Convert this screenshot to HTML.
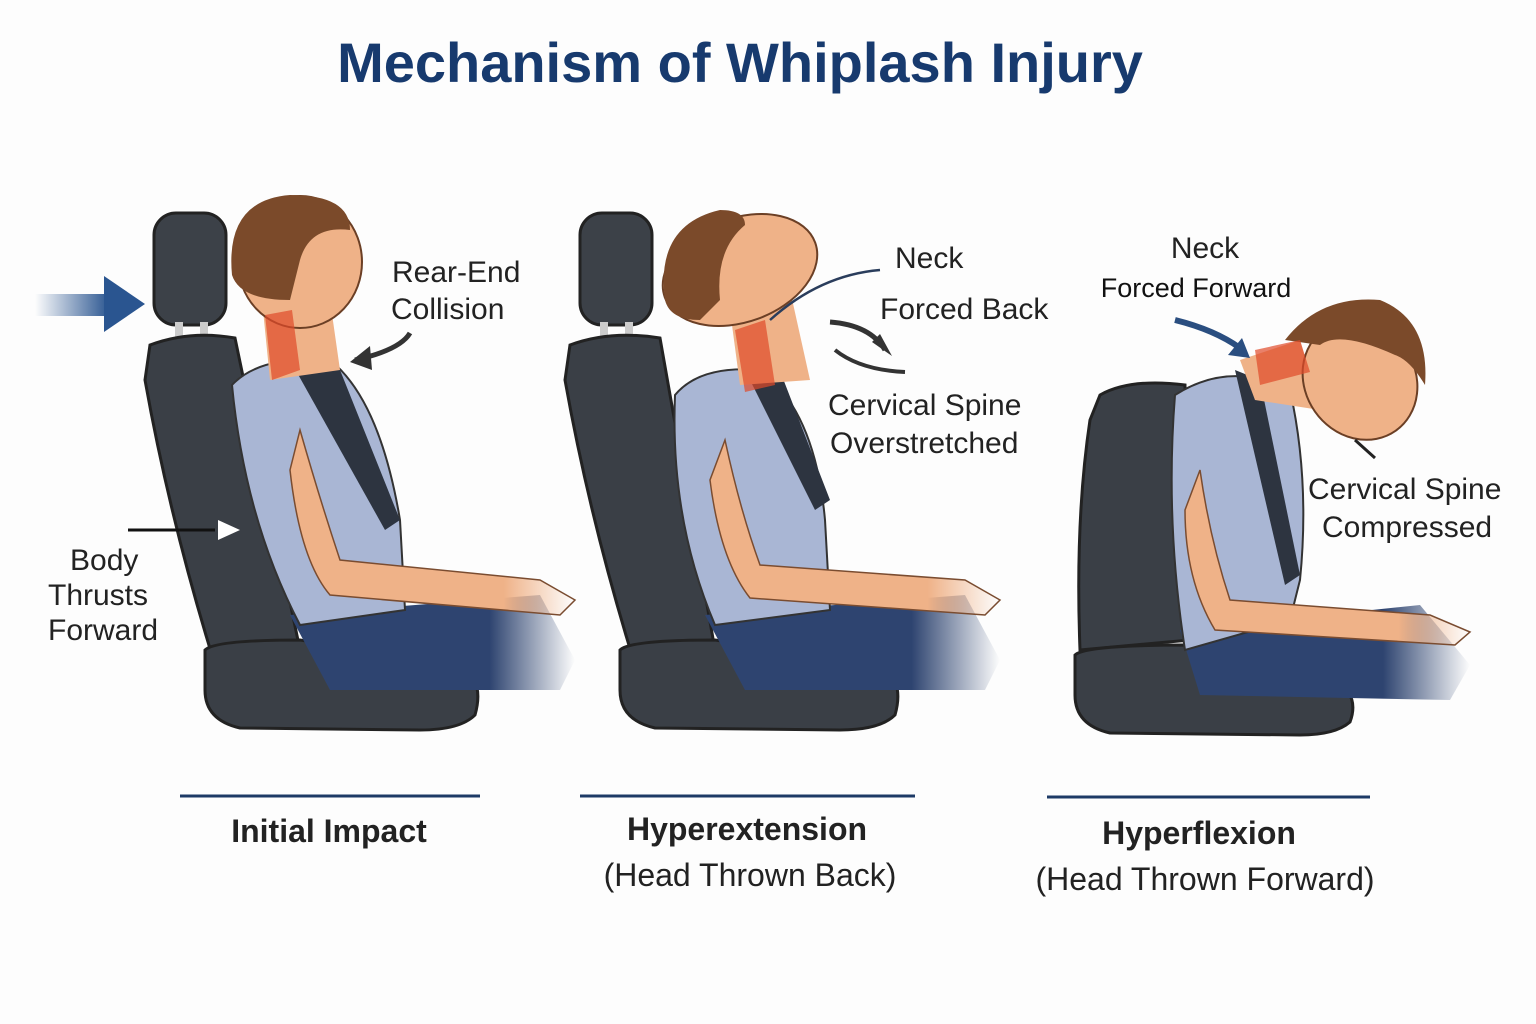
<!DOCTYPE html>
<html><head><meta charset="utf-8"><style>
html,body{margin:0;padding:0;background:#fdfdfd;}
svg{display:block}
text{font-family:"Liberation Sans",sans-serif;}
</style></head><body>
<svg width="1536" height="1024" viewBox="0 0 1536 1024" xmlns="http://www.w3.org/2000/svg">
<defs>
<linearGradient id="blu" x1="0" x2="1"><stop offset="0" stop-color="#2a5590" stop-opacity="0"/><stop offset="1" stop-color="#2a5590"/></linearGradient>
<linearGradient id="fade" x1="0" x2="1"><stop offset="0.7" stop-color="#2e4470"/><stop offset="1" stop-color="#2e4470" stop-opacity="0"/></linearGradient>
<linearGradient id="armfade" x1="0" x2="1"><stop offset="0.75" stop-color="#efb288"/><stop offset="1" stop-color="#efb288" stop-opacity="0"/></linearGradient>
</defs>
<rect width="1536" height="1024" fill="#fdfdfd"/>
<text x="740" y="82" text-anchor="middle" font-size="56" font-weight="bold" fill="#173a6e">Mechanism of Whiplash Injury</text>

<!-- FIGURE 1 -->
<g>
<rect x="35" y="294" width="75" height="22" fill="url(#blu)"/>
<polygon points="104,276 145,304 104,332" fill="#2a5590"/>
<rect x="154" y="213" width="72" height="112" rx="22" fill="#3c4148" stroke="#222" stroke-width="3"/>
<rect x="175" y="322" width="8" height="18" fill="#ccc"/><rect x="200" y="322" width="8" height="18" fill="#ccc"/>
<path d="M150 345 Q190 330 235 338 L300 650 L215 665 Q170 520 145 380 Z" fill="#3a3f46" stroke="#222" stroke-width="3"/>
<path d="M205 650 Q215 640 300 640 L460 665 Q485 680 475 715 Q460 730 420 730 L240 728 Q205 720 205 690 Z" fill="#3a3f46" stroke="#222" stroke-width="3"/>
<path d="M290 615 L540 595 L575 660 L560 690 L330 690 Z" fill="url(#fade)"/>
<path d="M232 385 Q260 355 330 360 Q380 400 400 520 L405 610 L300 625 Q245 520 232 385 Z" fill="#a9b6d4" stroke="#333" stroke-width="2"/>
<path d="M290 360 L330 345 L400 520 L385 530 Z" fill="#2d3440"/>
<path d="M300 430 Q320 500 340 560 L540 580 L575 600 L560 615 L330 595 Q300 560 290 470 Z" fill="url(#armfade)" stroke="#7a4c30" stroke-width="1.5"/>
<path d="M262 300 L330 300 L340 370 L270 380 Z" fill="#efb288"/>
<ellipse cx="300" cy="262" rx="62" ry="66" fill="#efb288" stroke="#6b3f25" stroke-width="2"/>
<path d="M232 275 Q225 200 290 195 Q350 195 350 230 Q310 225 300 260 L290 300 Q240 300 232 275 Z" fill="#7b4a2a"/>
<path d="M265 315 L292 310 L300 370 L272 380 Z" fill="#e04a2a" opacity="0.7"/>
<path d="M410 333 Q400 350 355 360" stroke="#333" stroke-width="5" fill="none"/>
<polygon points="350,362 370,346 372,370" fill="#333"/>
<line x1="128" y1="530" x2="215" y2="530" stroke="#111" stroke-width="3"/>
<polygon points="218,520 240,530 218,540" fill="#fff"/>
<text x="392" y="282" font-size="30" fill="#222">Rear-End</text>
<text x="391" y="319" font-size="30" fill="#222">Collision</text>
<text x="70" y="570" font-size="30" fill="#222">Body</text>
<text x="48" y="605" font-size="30" fill="#222">Thrusts</text>
<text x="48" y="640" font-size="30" fill="#222">Forward</text>
<line x1="180" y1="796" x2="480" y2="796" stroke="#1d3a66" stroke-width="3"/>
<text x="329" y="842" text-anchor="middle" font-size="32" font-weight="bold" fill="#222">Initial Impact</text>
</g>

<!-- FIGURE 2 -->
<g>
<rect x="580" y="213" width="72" height="112" rx="22" fill="#3c4148" stroke="#222" stroke-width="3"/>
<rect x="600" y="322" width="8" height="18" fill="#ccc"/><rect x="625" y="322" width="8" height="18" fill="#ccc"/>
<path d="M570 345 Q610 330 660 338 L715 650 L635 665 Q590 520 565 380 Z" fill="#3a3f46" stroke="#222" stroke-width="3"/>
<path d="M620 650 Q630 640 715 640 L880 665 Q905 680 895 715 Q880 730 840 730 L655 728 Q620 720 620 690 Z" fill="#3a3f46" stroke="#222" stroke-width="3"/>
<path d="M705 615 L965 595 L1000 660 L985 690 L745 690 Z" fill="url(#fade)"/>
<path d="M675 395 Q700 365 760 370 Q815 410 825 520 L830 610 L715 625 Q670 520 675 395 Z" fill="#a9b6d4" stroke="#333" stroke-width="2"/>
<path d="M740 360 L770 345 L830 500 L815 510 Z" fill="#2d3440"/>
<path d="M725 440 Q740 510 760 565 L965 580 L1000 600 L985 615 L750 598 Q720 560 710 480 Z" fill="url(#armfade)" stroke="#7a4c30" stroke-width="1.5"/>
<path d="M730 310 L790 290 L810 380 L740 385 Z" fill="#efb288"/>
<ellipse cx="740" cy="270" rx="80" ry="52" transform="rotate(-20 740 270)" fill="#efb288" stroke="#6b3f25" stroke-width="2"/>
<path d="M665 300 Q655 225 720 210 Q745 210 745 225 Q715 250 720 300 L700 320 Q670 320 665 300 Z" fill="#7b4a2a"/>
<path d="M735 330 L765 320 L775 385 L745 392 Z" fill="#e04a2a" opacity="0.7"/>
<path d="M880 270 Q820 275 770 320" stroke="#2a3d5c" stroke-width="2.5" fill="none"/>
<path d="M830 322 Q870 325 885 350" stroke="#333" stroke-width="5" fill="none"/>
<polygon points="872,342 892,356 880,334" fill="#333"/>
<path d="M835 350 Q860 370 905 372" stroke="#333" stroke-width="4" fill="none"/>
<text x="895" y="268" font-size="30" fill="#222">Neck</text>
<text x="880" y="319" font-size="30" fill="#222">Forced Back</text>
<text x="828" y="415" font-size="30" fill="#222">Cervical Spine</text>
<text x="830" y="453" font-size="30" fill="#222">Overstretched</text>
<line x1="580" y1="796" x2="915" y2="796" stroke="#1d3a66" stroke-width="3"/>
<text x="747" y="840" text-anchor="middle" font-size="32" font-weight="bold" fill="#222">Hyperextension</text>
<text x="750" y="886" text-anchor="middle" font-size="32" fill="#222">(Head Thrown Back)</text>
</g>

<!-- FIGURE 3 -->
<g>
<path d="M1100 395 Q1130 378 1185 385 L1190 640 L1080 650 Q1075 520 1090 420 Z" fill="#3a3f46" stroke="#222" stroke-width="3"/>
<path d="M1075 655 Q1085 645 1190 645 L1335 680 Q1360 695 1350 722 Q1335 735 1300 735 L1110 733 Q1075 725 1075 695 Z" fill="#3a3f46" stroke="#222" stroke-width="3"/>
<path d="M1180 630 L1420 605 L1470 665 L1450 700 L1200 695 Z" fill="url(#fade)"/>
<path d="M1175 395 Q1230 360 1290 390 Q1310 480 1300 580 L1290 620 L1185 650 Q1165 520 1175 395 Z" fill="#a9b6d4" stroke="#333" stroke-width="2"/>
<path d="M1235 370 L1260 380 L1300 575 L1285 585 Z" fill="#2d3440"/>
<path d="M1200 470 Q1210 540 1230 600 L1430 615 L1470 632 L1455 645 L1215 630 Q1185 580 1185 510 Z" fill="url(#armfade)" stroke="#7a4c30" stroke-width="1.5"/>
<path d="M1240 360 L1300 340 L1320 410 L1255 400 Z" fill="#efb288"/>
<ellipse cx="1360" cy="380" rx="55" ry="62" transform="rotate(-35 1360 380)" fill="#efb288" stroke="#6b3f25" stroke-width="2"/>
<path d="M1285 340 Q1320 295 1380 300 Q1430 320 1425 385 Q1410 360 1395 355 Q1340 330 1320 345 Z" fill="#7b4a2a"/>
<path d="M1255 350 L1300 340 L1310 372 L1260 385 Z" fill="#e04a2a" opacity="0.7"/>
<path d="M1175 320 Q1215 330 1240 348" stroke="#2a4e80" stroke-width="6" fill="none"/>
<polygon points="1250,358 1228,355 1242,338" fill="#2a4e80"/>
<line x1="1355" y1="440" x2="1375" y2="458" stroke="#222" stroke-width="3"/>
<text x="1205" y="258" text-anchor="middle" font-size="30" fill="#222">Neck</text>
<text x="1196" y="297" text-anchor="middle" font-size="27" fill="#111">Forced Forward</text>
<text x="1308" y="499" font-size="30" fill="#222">Cervical Spine</text>
<text x="1322" y="537" font-size="30" fill="#222">Compressed</text>
<line x1="1047" y1="797" x2="1370" y2="797" stroke="#1d3a66" stroke-width="3"/>
<text x="1199" y="844" text-anchor="middle" font-size="32" font-weight="bold" fill="#222">Hyperflexion</text>
<text x="1205" y="890" text-anchor="middle" font-size="32" fill="#222">(Head Thrown Forward)</text>
</g>
</svg>
</body></html>
